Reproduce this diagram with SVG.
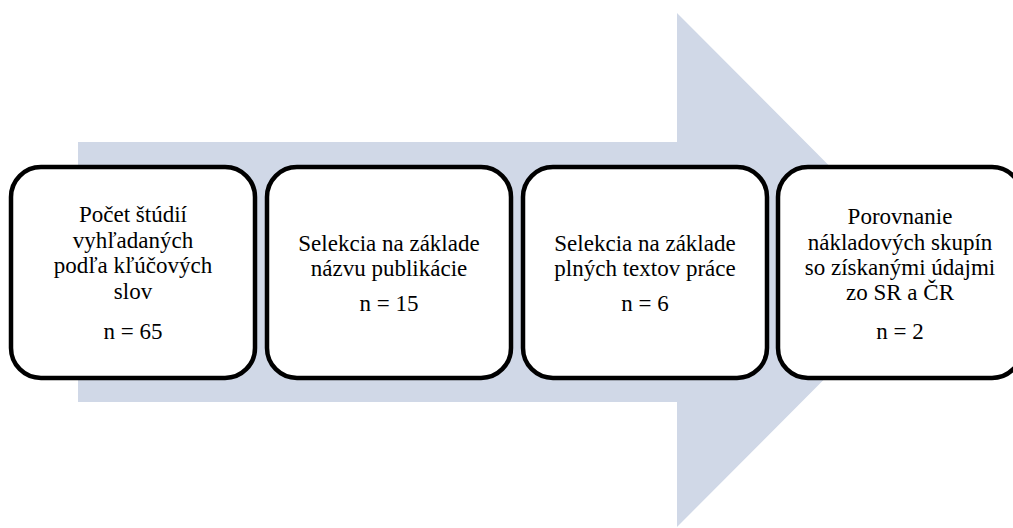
<svg xmlns="http://www.w3.org/2000/svg" width="1013" height="528" viewBox="0 0 1013 528">
  <style>
    .box { fill: #ffffff; stroke: #000000; stroke-width: 4.5; }
    .lbl { font-family: "Liberation Serif", "Times New Roman", serif; font-size: 23px; fill: #000000; text-anchor: middle; }
  </style>
  <rect width="1013" height="528" fill="#ffffff"/>
  <g id="arrow">
    <polygon points="78,142 677,142 677,13 933,270 677,527 677,402 78,402" fill="#D0D8E7"/>
  </g>
  <g id="connectors"></g>
  <g id="node1">
    <rect class="box" x="11" y="167" width="244" height="211" rx="30" ry="30"/>
    <text class="lbl" x="133" y="222">Počet štúdií</text>
    <text class="lbl" x="133" y="248">vyhľadaných</text>
    <text class="lbl" x="133" y="273">podľa kľúčových</text>
    <text class="lbl" x="133" y="299">slov</text>
    <text class="lbl" x="133" y="339">n = 65</text>
  </g>
  <g id="node2">
    <rect class="box" x="267" y="167" width="244" height="211" rx="30" ry="30"/>
    <text class="lbl" x="389" y="251">Selekcia na základe</text>
    <text class="lbl" x="389" y="276">názvu publikácie</text>
    <text class="lbl" x="389" y="311">n = 15</text>
  </g>
  <g id="node3">
    <rect class="box" x="523" y="167" width="244" height="211" rx="30" ry="30"/>
    <text class="lbl" x="645" y="251">Selekcia na základe</text>
    <text class="lbl" x="645" y="276">plných textov práce</text>
    <text class="lbl" x="645" y="311">n = 6</text>
  </g>
  <g id="node4">
    <rect class="box" x="778" y="167" width="244" height="211" rx="30" ry="30"/>
    <text class="lbl" x="900" y="224">Porovnanie</text>
    <text class="lbl" x="900" y="250">nákladových skupín</text>
    <text class="lbl" x="900" y="275">so získanými údajmi</text>
    <text class="lbl" x="900" y="300">zo SR a ČR</text>
    <text class="lbl" x="900" y="339">n = 2</text>
  </g>
</svg>
